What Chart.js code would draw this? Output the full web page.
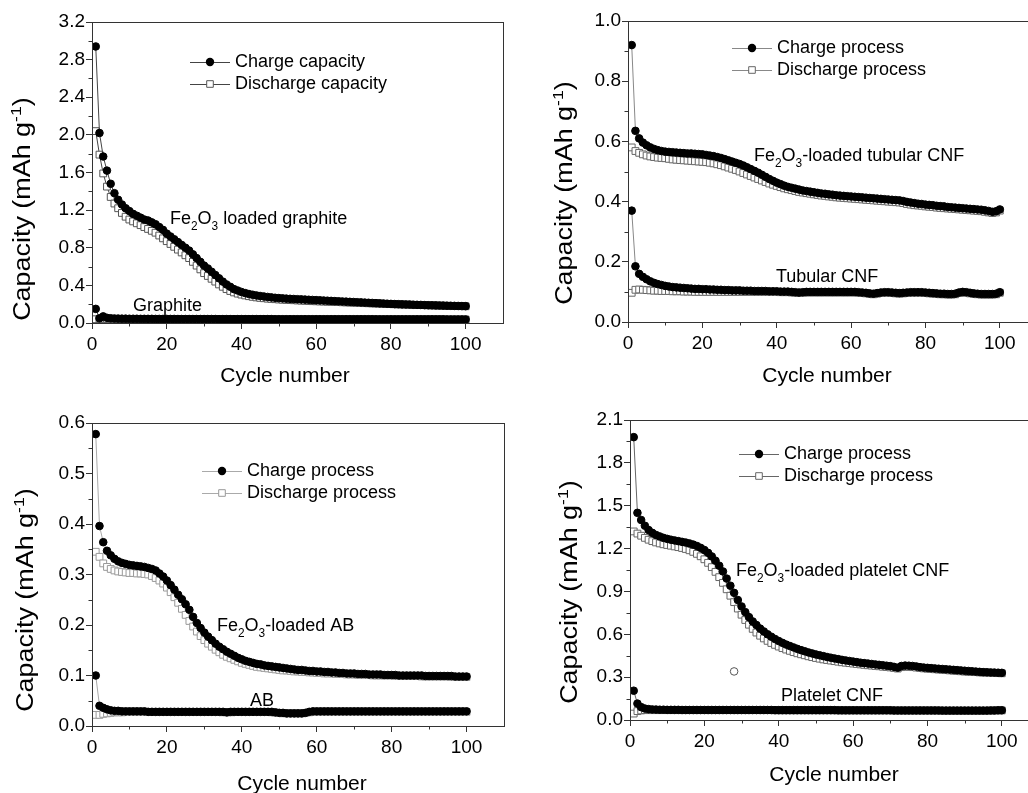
<!DOCTYPE html>
<html>
<head>
<meta charset="utf-8">
<script src="https://cdn.jsdelivr.net/npm/chart.js@4.4.0/dist/chart.umd.min.js"></script>
<style>
  html, body { margin: 0; padding: 0; background: #fff; width: 1028px; height: 793px; overflow: hidden; }
  canvas { position: absolute; }
</style>
</head>
<body>
<canvas id="panelA" width="514" height="396" style="left:0;top:0"></canvas>
<canvas id="panelB" width="540" height="396" style="left:514px;top:0"></canvas>
<canvas id="panelC" width="514" height="397" style="left:0;top:396px"></canvas>
<canvas id="panelD" width="540" height="397" style="left:514px;top:396px"></canvas>
<script>
const cycles = Array.from({ length: 100 }, (_, i) => i + 1);

// (a) graphite
const graphiteLoadedCharge = [
  2.94, 2.02, 1.77, 1.62, 1.48, 1.38, 1.31, 1.26, 1.22, 1.19,
  1.16, 1.14, 1.12, 1.10, 1.09, 1.07, 1.05, 1.02, 0.99, 0.95,
  0.92, 0.89, 0.86, 0.83, 0.80, 0.77, 0.73, 0.69, 0.65, 0.61,
  0.58, 0.545, 0.51, 0.475, 0.44, 0.41, 0.385, 0.36, 0.345, 0.33,
  0.318, 0.308, 0.3, 0.293, 0.287, 0.282, 0.277, 0.272, 0.268, 0.265,
  0.262, 0.259, 0.257, 0.255, 0.253, 0.251, 0.249, 0.247, 0.245, 0.243,
  0.241, 0.239, 0.237, 0.235, 0.233, 0.231, 0.229, 0.227, 0.225, 0.223,
  0.221, 0.219, 0.217, 0.215, 0.213, 0.211, 0.209, 0.207, 0.205, 0.203,
  0.201, 0.2, 0.198, 0.197, 0.196, 0.194, 0.193, 0.192, 0.19, 0.189,
  0.188, 0.187, 0.186, 0.185, 0.184, 0.183, 0.182, 0.181, 0.18, 0.179,
];
const graphiteLoadedDischarge = [
  2.04, 1.79, 1.59, 1.45, 1.34, 1.27, 1.22, 1.17, 1.13, 1.10,
  1.08, 1.06, 1.04, 1.02, 1.00, 0.98, 0.96, 0.93, 0.90, 0.87,
  0.84, 0.81, 0.78, 0.75, 0.72, 0.69, 0.65, 0.61, 0.57, 0.53,
  0.50, 0.47, 0.44, 0.41, 0.385, 0.36, 0.34, 0.325, 0.312, 0.302,
  0.293, 0.285, 0.278, 0.272, 0.267, 0.263, 0.259, 0.256, 0.253, 0.25,
  0.248, 0.246, 0.244, 0.242, 0.24, 0.238, 0.236, 0.234, 0.232, 0.231,
  0.229, 0.228, 0.226, 0.225, 0.223, 0.222, 0.22, 0.219, 0.217, 0.216,
  0.214, 0.213, 0.211, 0.21, 0.208, 0.207, 0.205, 0.204, 0.202, 0.201,
  0.199, 0.198, 0.197, 0.196, 0.195, 0.193, 0.192, 0.191, 0.19, 0.188,
  0.187, 0.186, 0.185, 0.184, 0.183, 0.182, 0.181, 0.18, 0.179, 0.178,
];
const graphiteCharge = [
  0.15, 0.05, 0.07, 0.055, 0.05, 0.048, 0.047, 0.046, 0.046, 0.045,
  0.045, 0.045, 0.044, 0.044, 0.044, 0.044, 0.043, 0.043, 0.043, 0.043,
  0.043, 0.043, 0.042, 0.042, 0.042, 0.042, 0.042, 0.042, 0.042, 0.042,
  0.042, 0.042, 0.042, 0.041, 0.041, 0.041, 0.041, 0.041, 0.041, 0.041,
  0.041, 0.041, 0.041, 0.041, 0.041, 0.041, 0.041, 0.041, 0.04, 0.04,
  0.04, 0.04, 0.04, 0.04, 0.04, 0.04, 0.04, 0.04, 0.04, 0.04,
  0.04, 0.04, 0.04, 0.04, 0.04, 0.04, 0.04, 0.04, 0.04, 0.04,
  0.04, 0.04, 0.04, 0.04, 0.04, 0.039, 0.039, 0.039, 0.039, 0.039,
  0.039, 0.039, 0.039, 0.039, 0.039, 0.039, 0.039, 0.039, 0.039, 0.039,
  0.039, 0.039, 0.039, 0.039, 0.038, 0.038, 0.038, 0.038, 0.038, 0.038,
];
const graphiteDischarge = [
  0.04, 0.041, 0.043, 0.042, 0.042, 0.042, 0.042, 0.041, 0.041, 0.041,
  0.041, 0.041, 0.041, 0.041, 0.041, 0.041, 0.041, 0.041, 0.041, 0.041,
  0.041, 0.041, 0.041, 0.041, 0.04, 0.04, 0.04, 0.04, 0.04, 0.04,
  0.04, 0.04, 0.04, 0.04, 0.04, 0.04, 0.04, 0.04, 0.04, 0.04,
  0.04, 0.04, 0.04, 0.04, 0.04, 0.04, 0.04, 0.04, 0.039, 0.039,
  0.039, 0.039, 0.039, 0.039, 0.039, 0.039, 0.039, 0.039, 0.039, 0.039,
  0.039, 0.039, 0.039, 0.039, 0.039, 0.039, 0.039, 0.039, 0.039, 0.039,
  0.039, 0.039, 0.039, 0.039, 0.039, 0.038, 0.038, 0.038, 0.038, 0.038,
  0.038, 0.038, 0.038, 0.038, 0.038, 0.038, 0.038, 0.038, 0.038, 0.038,
  0.038, 0.038, 0.038, 0.038, 0.037, 0.037, 0.037, 0.037, 0.037, 0.037,
];

// (b) tubular CNF
const tubularLoadedCharge = [
  0.92, 0.635, 0.61, 0.596, 0.587, 0.58, 0.575, 0.571, 0.568, 0.566,
  0.565, 0.564, 0.563, 0.562, 0.561, 0.56, 0.56, 0.559, 0.558, 0.557,
  0.555, 0.553, 0.551, 0.548, 0.545, 0.541, 0.537, 0.533, 0.529, 0.525,
  0.52, 0.514, 0.508, 0.502, 0.496, 0.489, 0.482, 0.475, 0.469, 0.463,
  0.458, 0.453, 0.449, 0.446, 0.443, 0.44, 0.437, 0.435, 0.433, 0.431,
  0.429, 0.427, 0.426, 0.424, 0.423, 0.421, 0.42, 0.419, 0.418, 0.417,
  0.416, 0.415, 0.414, 0.413, 0.412, 0.411, 0.41, 0.409, 0.408, 0.407,
  0.406, 0.405, 0.404, 0.402, 0.399, 0.397, 0.395, 0.393, 0.392, 0.39,
  0.389, 0.388, 0.386, 0.385, 0.384, 0.382, 0.381, 0.38, 0.379, 0.378,
  0.377, 0.376, 0.375, 0.374, 0.373, 0.371, 0.369, 0.366, 0.368, 0.374,
];
const tubularLoadedDischarge = [
  0.58, 0.568, 0.562, 0.557, 0.553, 0.55, 0.548, 0.546, 0.545, 0.544,
  0.542, 0.54, 0.539, 0.538, 0.537, 0.536, 0.535, 0.534, 0.533, 0.532,
  0.531, 0.529, 0.527, 0.524, 0.521, 0.517, 0.513, 0.509, 0.505, 0.5,
  0.495, 0.49, 0.485, 0.48, 0.475, 0.47, 0.465, 0.46, 0.456, 0.452,
  0.448, 0.444, 0.441, 0.438, 0.435, 0.432, 0.43, 0.428, 0.426, 0.424,
  0.422, 0.42, 0.419, 0.417, 0.416, 0.414, 0.413, 0.412, 0.411, 0.41,
  0.409, 0.408, 0.407, 0.406, 0.405, 0.404, 0.403, 0.402, 0.401, 0.4,
  0.399, 0.398, 0.397, 0.395, 0.392, 0.39, 0.388, 0.387, 0.386, 0.384,
  0.383, 0.382, 0.38, 0.379, 0.378, 0.377, 0.376, 0.375, 0.374, 0.373,
  0.372, 0.371, 0.37, 0.369, 0.368, 0.366, 0.364, 0.362, 0.364, 0.37,
];
const tubularCharge = [
  0.37, 0.185, 0.16, 0.15, 0.142, 0.135, 0.13, 0.126, 0.123, 0.12,
  0.118, 0.116, 0.115, 0.114, 0.113, 0.112, 0.111, 0.11, 0.11, 0.109,
  0.109, 0.108, 0.108, 0.107, 0.107, 0.106, 0.106, 0.105, 0.105, 0.105,
  0.104, 0.104, 0.104, 0.103, 0.103, 0.103, 0.103, 0.102, 0.102, 0.102,
  0.101, 0.101, 0.101, 0.1, 0.099, 0.098, 0.099, 0.1, 0.1, 0.1,
  0.1, 0.1, 0.1, 0.1, 0.1, 0.1, 0.1, 0.1, 0.1, 0.1,
  0.1, 0.099, 0.098, 0.097, 0.095, 0.094, 0.096, 0.098, 0.099, 0.099,
  0.098, 0.097, 0.096, 0.097, 0.098, 0.099, 0.099, 0.099, 0.099, 0.098,
  0.097, 0.096, 0.095, 0.094, 0.094, 0.093, 0.093, 0.094, 0.098, 0.1,
  0.099, 0.097, 0.095, 0.094, 0.093, 0.093, 0.093, 0.093, 0.094, 0.099,
];
const tubularDischarge = [
  0.097, 0.107, 0.108, 0.107, 0.106, 0.105, 0.104, 0.104, 0.103, 0.103,
  0.103, 0.102, 0.102, 0.102, 0.101, 0.101, 0.101, 0.1, 0.1, 0.1,
  0.1, 0.1, 0.1, 0.1, 0.1, 0.1, 0.1, 0.1, 0.1, 0.1,
  0.1, 0.1, 0.1, 0.1, 0.1, 0.1, 0.1, 0.1, 0.1, 0.1,
  0.099, 0.099, 0.099, 0.098, 0.097, 0.096, 0.097, 0.098, 0.098, 0.098,
  0.098, 0.098, 0.098, 0.098, 0.098, 0.098, 0.098, 0.098, 0.098, 0.098,
  0.098, 0.097, 0.096, 0.095, 0.093, 0.092, 0.094, 0.096, 0.097, 0.097,
  0.096, 0.095, 0.094, 0.095, 0.096, 0.097, 0.097, 0.097, 0.097, 0.096,
  0.095, 0.094, 0.093, 0.092, 0.092, 0.091, 0.091, 0.092, 0.096, 0.098,
  0.097, 0.095, 0.093, 0.092, 0.091, 0.091, 0.091, 0.091, 0.092, 0.097,
];

// (c) acetylene black
const abLoadedCharge = [
  0.578, 0.396, 0.364, 0.347, 0.338, 0.331, 0.326, 0.323, 0.321, 0.319,
  0.318, 0.317, 0.316, 0.315, 0.313, 0.311, 0.308, 0.302, 0.296, 0.288,
  0.279, 0.27, 0.26, 0.251, 0.241, 0.23, 0.216, 0.204, 0.194, 0.185,
  0.177, 0.17, 0.163, 0.157, 0.152, 0.147, 0.143, 0.139, 0.135, 0.132,
  0.129, 0.127, 0.125, 0.123, 0.122, 0.12, 0.119, 0.118, 0.117, 0.116,
  0.115, 0.114, 0.113, 0.112, 0.111, 0.111, 0.11, 0.109, 0.109, 0.108,
  0.108, 0.107, 0.107, 0.106, 0.106, 0.105, 0.105, 0.104, 0.104, 0.104,
  0.103, 0.103, 0.103, 0.102, 0.102, 0.102, 0.102, 0.101, 0.101, 0.101,
  0.101, 0.1, 0.1, 0.1, 0.1, 0.1, 0.1, 0.1, 0.099, 0.099,
  0.099, 0.099, 0.099, 0.099, 0.099, 0.099, 0.098, 0.098, 0.098, 0.098,
];
const abLoadedDischarge = [
  0.345, 0.335, 0.322, 0.315, 0.311, 0.308, 0.306, 0.305, 0.304, 0.303,
  0.303, 0.302, 0.302, 0.301, 0.3, 0.297, 0.293, 0.288, 0.282, 0.274,
  0.265, 0.255, 0.244, 0.232, 0.22, 0.208, 0.197, 0.187, 0.178, 0.17,
  0.163, 0.157, 0.151, 0.146, 0.141, 0.137, 0.134, 0.131, 0.128, 0.125,
  0.123, 0.121, 0.119, 0.117, 0.116, 0.115, 0.114, 0.113, 0.112, 0.111,
  0.11, 0.11, 0.109, 0.108, 0.108, 0.107, 0.107, 0.106, 0.106, 0.105,
  0.105, 0.104, 0.104, 0.104, 0.103, 0.103, 0.103, 0.102, 0.102, 0.102,
  0.101, 0.101, 0.101, 0.101, 0.1, 0.1, 0.1, 0.1, 0.1, 0.1,
  0.099, 0.099, 0.099, 0.099, 0.099, 0.099, 0.099, 0.098, 0.098, 0.098,
  0.098, 0.098, 0.098, 0.098, 0.098, 0.097, 0.097, 0.097, 0.097, 0.097,
];
const abCharge = [
  0.1, 0.04, 0.036, 0.033, 0.031, 0.03, 0.03, 0.029, 0.029, 0.029,
  0.029, 0.029, 0.029, 0.029, 0.028, 0.028, 0.028, 0.028, 0.028, 0.028,
  0.028, 0.028, 0.028, 0.028, 0.028, 0.028, 0.028, 0.028, 0.028, 0.028,
  0.028, 0.028, 0.028, 0.028, 0.028, 0.027, 0.028, 0.028, 0.028, 0.028,
  0.028, 0.028, 0.028, 0.028, 0.028, 0.028, 0.028, 0.028, 0.027, 0.026,
  0.026, 0.025, 0.025, 0.025, 0.025, 0.025, 0.026, 0.028, 0.029, 0.029,
  0.029, 0.029, 0.029, 0.029, 0.029, 0.029, 0.029, 0.029, 0.029, 0.029,
  0.029, 0.029, 0.029, 0.029, 0.029, 0.029, 0.029, 0.029, 0.029, 0.029,
  0.029, 0.029, 0.029, 0.029, 0.029, 0.029, 0.029, 0.029, 0.029, 0.029,
  0.029, 0.029, 0.029, 0.029, 0.029, 0.029, 0.029, 0.029, 0.029, 0.029,
];
const abDischarge = [
  0.022, 0.022, 0.024, 0.025, 0.026, 0.027, 0.027, 0.027, 0.028, 0.028,
  0.028, 0.028, 0.028, 0.028, 0.028, 0.028, 0.028, 0.028, 0.028, 0.028,
  0.028, 0.028, 0.028, 0.028, 0.028, 0.028, 0.028, 0.028, 0.028, 0.028,
  0.028, 0.028, 0.028, 0.028, 0.027, 0.027, 0.027, 0.028, 0.028, 0.028,
  0.028, 0.028, 0.028, 0.028, 0.028, 0.028, 0.028, 0.027, 0.026, 0.026,
  0.025, 0.025, 0.025, 0.025, 0.025, 0.025, 0.026, 0.027, 0.028, 0.028,
  0.028, 0.028, 0.028, 0.028, 0.028, 0.028, 0.028, 0.028, 0.028, 0.028,
  0.028, 0.028, 0.028, 0.028, 0.028, 0.028, 0.028, 0.028, 0.028, 0.028,
  0.028, 0.028, 0.028, 0.028, 0.028, 0.028, 0.028, 0.028, 0.028, 0.028,
  0.028, 0.028, 0.028, 0.028, 0.028, 0.028, 0.028, 0.028, 0.028, 0.028,
];

// (d) platelet CNF
const plateletLoadedCharge = [
  1.98, 1.45, 1.40, 1.36, 1.33, 1.31, 1.295, 1.285, 1.275, 1.268,
  1.262, 1.257, 1.252, 1.247, 1.242, 1.236, 1.228, 1.218, 1.205, 1.19,
  1.17, 1.145, 1.115, 1.08, 1.04, 0.99, 0.94, 0.89, 0.84, 0.795,
  0.755, 0.72, 0.69, 0.665, 0.64, 0.62, 0.6, 0.583, 0.567, 0.553,
  0.54, 0.528, 0.518, 0.508, 0.498, 0.489, 0.481, 0.473, 0.466, 0.459,
  0.453, 0.447, 0.441, 0.436, 0.431, 0.426, 0.421, 0.417, 0.413, 0.409,
  0.405, 0.401, 0.398, 0.395, 0.392, 0.389, 0.386, 0.383, 0.38, 0.377,
  0.372, 0.366, 0.378, 0.381, 0.38, 0.378, 0.375, 0.37, 0.367, 0.365,
  0.363, 0.361, 0.359, 0.357, 0.355, 0.353, 0.351, 0.349, 0.347, 0.345,
  0.343, 0.341, 0.339, 0.337, 0.335, 0.334, 0.333, 0.332, 0.331, 0.33,
];
const plateletLoadedDischarge = [
  1.32, 1.305, 1.29, 1.275, 1.262, 1.252, 1.243, 1.236, 1.23, 1.225,
  1.22, 1.215, 1.21, 1.204, 1.197, 1.188, 1.177, 1.163, 1.146, 1.125,
  1.1, 1.07, 1.037, 1.0, 0.96, 0.915, 0.87, 0.825, 0.78, 0.737,
  0.7, 0.667, 0.638, 0.612, 0.59, 0.571, 0.554, 0.539, 0.526, 0.514,
  0.503, 0.493, 0.484, 0.475, 0.467, 0.46, 0.453, 0.446, 0.44, 0.434,
  0.429, 0.424, 0.42, 0.416, 0.412, 0.408, 0.404, 0.401, 0.398, 0.395,
  0.392, 0.389, 0.386, 0.383, 0.381, 0.378, 0.376, 0.373, 0.371, 0.368,
  0.364, 0.36, 0.37, 0.373, 0.372, 0.37, 0.367, 0.364, 0.361, 0.359,
  0.357, 0.355, 0.353, 0.351, 0.349, 0.347, 0.345, 0.343, 0.341, 0.339,
  0.337, 0.336, 0.335, 0.333, 0.332, 0.331, 0.33, 0.329, 0.328, 0.327,
];
const plateletCharge = [
  0.205, 0.115, 0.09, 0.08, 0.076, 0.074, 0.073, 0.072, 0.072, 0.071,
  0.071, 0.071, 0.071, 0.07, 0.07, 0.07, 0.07, 0.07, 0.07, 0.07,
  0.07, 0.07, 0.07, 0.07, 0.07, 0.07, 0.07, 0.07, 0.07, 0.07,
  0.07, 0.07, 0.07, 0.07, 0.07, 0.07, 0.07, 0.07, 0.069, 0.069,
  0.069, 0.069, 0.069, 0.069, 0.069, 0.069, 0.069, 0.069, 0.069, 0.069,
  0.069, 0.069, 0.069, 0.069, 0.069, 0.068, 0.068, 0.068, 0.068, 0.068,
  0.068, 0.068, 0.068, 0.068, 0.068, 0.068, 0.068, 0.068, 0.068, 0.068,
  0.067, 0.067, 0.067, 0.067, 0.067, 0.067, 0.067, 0.067, 0.067, 0.067,
  0.067, 0.067, 0.067, 0.066, 0.066, 0.066, 0.066, 0.066, 0.066, 0.066,
  0.066, 0.066, 0.066, 0.066, 0.066, 0.066, 0.067, 0.067, 0.068, 0.068,
];
const plateletDischarge = [
  0.045, 0.062, 0.067, 0.069, 0.069, 0.069, 0.069, 0.069, 0.069, 0.069,
  0.069, 0.069, 0.069, 0.069, 0.069, 0.069, 0.069, 0.069, 0.069, 0.069,
  0.069, 0.069, 0.069, 0.069, 0.069, 0.069, 0.069, 0.069, 0.069, 0.069,
  0.069, 0.069, 0.069, 0.069, 0.069, 0.069, 0.069, 0.069, 0.068, 0.068,
  0.068, 0.068, 0.068, 0.068, 0.068, 0.068, 0.068, 0.068, 0.068, 0.068,
  0.068, 0.068, 0.068, 0.068, 0.068, 0.067, 0.067, 0.067, 0.067, 0.067,
  0.067, 0.067, 0.067, 0.067, 0.067, 0.067, 0.067, 0.067, 0.067, 0.067,
  0.066, 0.066, 0.066, 0.066, 0.066, 0.066, 0.066, 0.066, 0.066, 0.066,
  0.066, 0.066, 0.066, 0.065, 0.065, 0.065, 0.065, 0.065, 0.065, 0.065,
  0.065, 0.065, 0.065, 0.065, 0.065, 0.065, 0.066, 0.066, 0.067, 0.067,
];
const plateletStrayCycle = [28];
const plateletStrayValue = [0.34];

const FONT = '"Liberation Sans", Arial, Helvetica, sans-serif';

const pts = (xs, ys) => xs.map((x, i) => ({ x: x, y: ys[i] }));

// text pieces: [text, shift] shift 0 = normal, 1 = subscript, -1 = superscript
function richWidth(ctx, parts, size) {
  let w = 0;
  parts.forEach(([t, s]) => {
    ctx.font = `${s ? size * 0.66 : size}px ${FONT}`;
    w += ctx.measureText(t).width;
  });
  return w;
}
function drawRich(ctx, parts, x, y, size) {
  let cx = x;
  ctx.textBaseline = "alphabetic";
  ctx.textAlign = "left";
  parts.forEach(([t, s]) => {
    const fs = s ? size * 0.66 : size;
    ctx.font = `${fs}px ${FONT}`;
    const dy = s === 1 ? size * 0.28 : s === -1 ? -size * 0.42 : 0;
    ctx.fillText(t, cx, y + dy);
    cx += ctx.measureText(t).width;
  });
}

function drawMarker(ctx, kind, x, y, color) {
  ctx.beginPath();
  if (kind === "circle") {
    ctx.arc(x, y, 4.2, 0, Math.PI * 2);
    ctx.fillStyle = "#000";
    ctx.fill();
  } else if (kind === "rect") {
    ctx.rect(x - 3.3, y - 3.3, 6.6, 6.6);
    ctx.fillStyle = "#fff";
    ctx.fill();
    ctx.strokeStyle = color;
    ctx.lineWidth = 1;
    ctx.stroke();
  }
}

const decor = {
  id: "decor",
  afterDraw(chart, args, o) {
    const { ctx, chartArea: a, scales } = chart;
    const xs = scales.x, ys = scales.y;
    ctx.save();
    // frame
    ctx.strokeStyle = "#333";
    ctx.lineWidth = 1;
    ctx.strokeRect(a.left + 0.5, a.top + 0.5, a.right - a.left, a.bottom - a.top);
    // minor ticks
    ctx.beginPath();
    for (let v = 10; v < 110; v += 20) {
      const px = Math.round(xs.getPixelForValue(v)) + 0.5;
      ctx.moveTo(px, a.bottom);
      ctx.lineTo(px, a.bottom + 3.5);
    }
    const n = Math.round(o.yMax / o.yStep);
    for (let k = 0; k < n; k++) {
      const py = Math.round(ys.getPixelForValue((k + 0.5) * o.yStep)) + 0.5;
      ctx.moveTo(a.left, py);
      ctx.lineTo(a.left - 3.5, py);
    }
    ctx.stroke();

    ctx.fillStyle = "#000";
    // x title
    ctx.font = `21px ${FONT}`;
    ctx.textAlign = "center";
    ctx.textBaseline = "middle";
    ctx.fillText("Cycle number", o.xTitle[0], o.xTitle[1]);
    // y title, a little stretched along its length like the original
    const yParts = [["Capacity (mAh g", 0], ["-1", -1], [")", 0]];
    const ySize = 23;
    const yw = richWidth(ctx, yParts, ySize);
    ctx.save();
    ctx.translate(o.yTitle[0], o.yTitle[1]);
    ctx.rotate(-Math.PI / 2);
    ctx.scale(1.17, 1);
    ctx.fillStyle = "#000";
    drawRich(ctx, yParts, -yw / 2, ySize * 0.36, ySize);
    ctx.restore();

    // legend
    o.legend.forEach((row, i) => {
      const y = o.legendY[i];
      ctx.beginPath();
      ctx.strokeStyle = o.lineColor;
      ctx.lineWidth = 1;
      ctx.moveTo(o.legendX[0], y + 0.5);
      ctx.lineTo(o.legendX[2], y + 0.5);
      ctx.stroke();
      drawMarker(ctx, row.marker, o.legendX[1], y, o.squareColor);
      ctx.fillStyle = "#000";
      ctx.font = `18px ${FONT}`;
      ctx.textAlign = "left";
      ctx.textBaseline = "middle";
      ctx.fillText(row.label, o.legendX[3], y);
    });

    // curve labels
    ctx.fillStyle = "#000";
    o.notes.forEach((nt) => {
      drawRich(ctx, nt.parts, nt.x, nt.y + 18 * 0.36, 18);
    });
    ctx.restore();
  },
};
Chart.register(decor);

function buildPanel(id, p) {
  const h = document.getElementById(id).height;
  const w = document.getElementById(id).width;
  const datasets = [
    {
      data: pts(cycles, p.loadedCharge),
      borderColor: p.lineColor, borderWidth: 1,
      pointStyle: "circle", pointRadius: 3.8,
      pointBackgroundColor: "#000", pointBorderColor: "#000", pointBorderWidth: 1,
    },
    {
      data: pts(cycles, p.bareCharge),
      borderColor: p.lineColor, borderWidth: 1,
      pointStyle: "circle", pointRadius: 3.8,
      pointBackgroundColor: "#000", pointBorderColor: "#000", pointBorderWidth: 1,
    },
    {
      data: pts(cycles, p.loadedDischarge),
      borderColor: p.lineColor, borderWidth: 1,
      pointStyle: "rect", pointRadius: 4.8,
      pointBackgroundColor: "#fff", pointBorderColor: p.squareColor, pointBorderWidth: 1,
    },
    {
      data: pts(cycles, p.bareDischarge),
      borderColor: p.lineColor, borderWidth: 1,
      pointStyle: "rect", pointRadius: 4.8,
      pointBackgroundColor: "#fff", pointBorderColor: p.squareColor, pointBorderWidth: 1,
    },
  ];
  if (p.extra) datasets.unshift(p.extra);

  new Chart(document.getElementById(id), {
    type: "line",
    data: { datasets: datasets },
    options: {
      responsive: false,
      animation: false,
      events: [],
      layout: { padding: { left: 0, top: p.area.t, right: w - p.area.r, bottom: 0 } },
      plugins: {
        legend: { display: false },
        tooltip: { enabled: false },
        decor: {
          yMax: p.yMax, yStep: p.yStep,
          xTitle: p.xTitle, yTitle: p.yTitle,
          legend: p.legend, legendX: p.legendX, legendY: p.legendY,
          lineColor: p.lineColor, squareColor: p.squareColor,
          notes: p.notes,
        },
      },
      scales: {
        x: {
          type: "linear",
          min: 0,
          max: 110,
          afterFit: (s) => { s.height = h - p.area.b; },
          ticks: {
            stepSize: 20, includeBounds: false, padding: 4,
            color: "#000", font: { family: FONT, size: 19 },
            maxRotation: 0,
          },
          grid: { drawOnChartArea: false, drawTicks: true, tickLength: 6, color: "#333" },
          border: { display: true, color: "#333", width: 1 },
        },
        y: {
          type: "linear",
          min: 0,
          max: p.yMax,
          afterFit: (s) => { s.width = p.area.l; },
          ticks: {
            stepSize: p.yStep, padding: 1,
            color: "#000", font: { family: FONT, size: 19 },
            callback: (v) => v.toFixed(1),
          },
          grid: { drawOnChartArea: false, drawTicks: true, tickLength: 6, color: "#333" },
          border: { display: true, color: "#333", width: 1 },
        },
      },
    },
  });
}

const fe = (rest) => [["Fe", 0], ["2", 1], ["O", 0], ["3", 1], [rest, 0]];

buildPanel("panelA", {
  loadedCharge: graphiteLoadedCharge, loadedDischarge: graphiteLoadedDischarge,
  bareCharge: graphiteCharge, bareDischarge: graphiteDischarge,
  yMax: 3.2, yStep: 0.4,
  area: { l: 92, t: 22, r: 503, b: 323 },
  lineColor: "#444", squareColor: "#555",
  xTitle: [285, 376], yTitle: [22, 209],
  legend: [{ marker: "circle", label: "Charge capacity" }, { marker: "rect", label: "Discharge capacity" }],
  legendX: [190, 210, 230, 235], legendY: [62, 84],
  notes: [
    { parts: fe(" loaded graphite"), x: 170, y: 218 },
    { parts: [["Graphite", 0]], x: 133, y: 305 },
  ],
});

buildPanel("panelB", {
  loadedCharge: tubularLoadedCharge, loadedDischarge: tubularLoadedDischarge,
  bareCharge: tubularCharge, bareDischarge: tubularDischarge,
  yMax: 1.0, yStep: 0.2,
  area: { l: 114, t: 21, r: 523, b: 322 },
  lineColor: "#888", squareColor: "#666",
  xTitle: [313, 376], yTitle: [50, 193],
  legend: [{ marker: "circle", label: "Charge process" }, { marker: "rect", label: "Discharge process" }],
  legendX: [218, 238, 258, 263], legendY: [48, 70],
  notes: [
    { parts: fe("-loaded tubular CNF"), x: 240, y: 155 },
    { parts: [["Tubular CNF", 0]], x: 262, y: 276 },
  ],
});

buildPanel("panelC", {
  loadedCharge: abLoadedCharge, loadedDischarge: abLoadedDischarge,
  bareCharge: abCharge, bareDischarge: abDischarge,
  yMax: 0.6, yStep: 0.1,
  area: { l: 92, t: 27, r: 504, b: 330 },
  lineColor: "#aaa", squareColor: "#999",
  xTitle: [302, 388], yTitle: [25, 204],
  legend: [{ marker: "circle", label: "Charge process" }, { marker: "rect", label: "Discharge process" }],
  legendX: [202, 222, 242, 247], legendY: [75, 97],
  notes: [
    { parts: fe("-loaded AB"), x: 217, y: 229 },
    { parts: [["AB", 0]], x: 250, y: 304 },
  ],
});

buildPanel("panelD", {
  loadedCharge: plateletLoadedCharge, loadedDischarge: plateletLoadedDischarge,
  bareCharge: plateletCharge, bareDischarge: plateletDischarge,
  yMax: 2.1, yStep: 0.3,
  area: { l: 116, t: 24, r: 525, b: 324 },
  lineColor: "#666", squareColor: "#666",
  xTitle: [320, 379], yTitle: [55, 196],
  legend: [{ marker: "circle", label: "Charge process" }, { marker: "rect", label: "Discharge process" }],
  legendX: [225, 245, 265, 270], legendY: [58, 80],
  notes: [
    { parts: fe("-loaded platelet CNF"), x: 222, y: 174 },
    { parts: [["Platelet CNF", 0]], x: 267, y: 299 },
  ],
  extra: {
    data: pts(plateletStrayCycle, plateletStrayValue),
    showLine: false,
    pointStyle: "circle", pointRadius: 3.8,
    pointBackgroundColor: "#fff", pointBorderColor: "#555", pointBorderWidth: 1,
  },
});
</script>
</body>
</html>
